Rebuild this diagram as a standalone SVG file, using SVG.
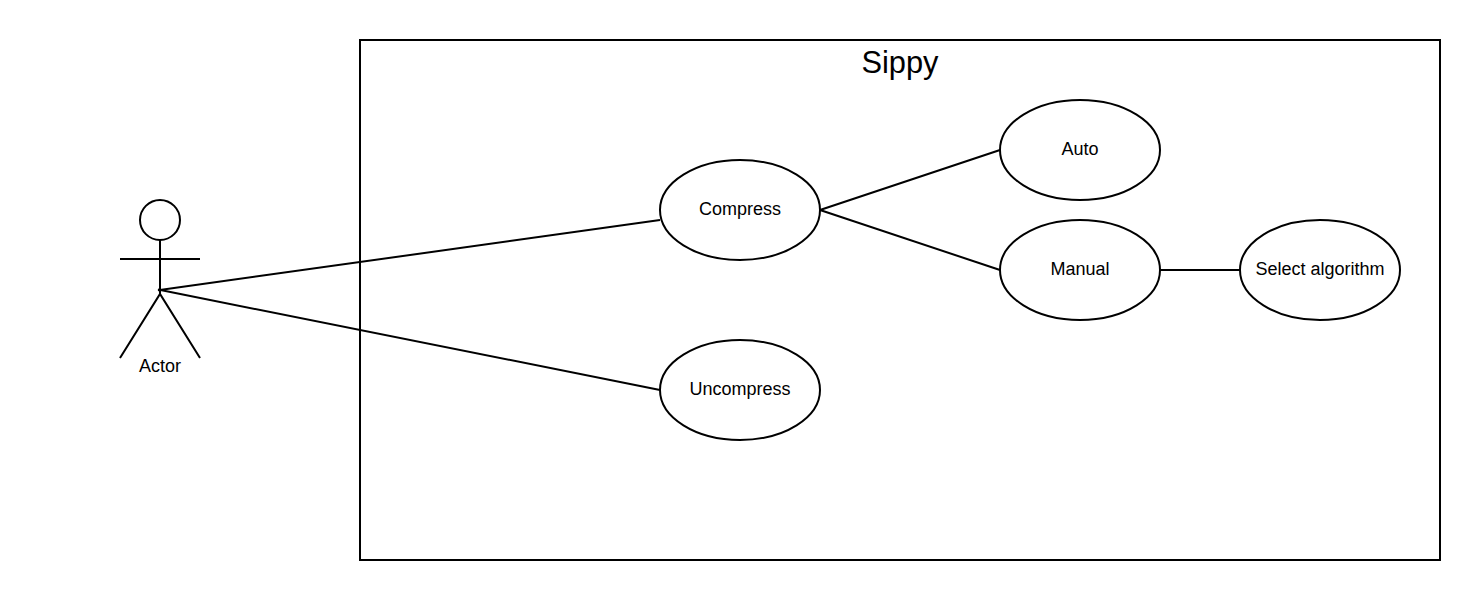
<svg xmlns="http://www.w3.org/2000/svg" width="1480" height="600" viewBox="0 0 1480 600">
<style>
.s{fill:none;stroke:#000;stroke-width:2}
.e{fill:#fff;stroke:#000;stroke-width:2}
text{font-family:"Liberation Sans",Arial,sans-serif;font-size:18px;fill:#000;text-anchor:middle}
</style>
<rect width="1480" height="600" fill="#fff"/>
<g id="system"><rect class="s" x="360" y="40" width="1080" height="520"/><text x="900" y="73" style="font-size:30.8px">Sippy</text></g>
<g id="connectors">
<path class="s" d="M158 290.300L660 220"/>
<path class="s" d="M158 289.600L660 390"/>
<path class="s" d="M820 210L1000 150"/>
<path class="s" d="M820 210L1000 270"/>
<path class="s" d="M1160 270H1240"/>
</g>
<g id="actor"><circle class="s" cx="160" cy="220" r="20"/><path class="s" d="M160 240V294M120 259H200M120 358L160 294L200 358"/><text x="160" y="372">Actor</text></g>
<g id="compress"><ellipse class="e" cx="740" cy="210" rx="80" ry="50"/><text x="740" y="215">Compress</text></g>
<g id="uncompress"><ellipse class="e" cx="740" cy="390" rx="80" ry="50"/><text x="740" y="395">Uncompress</text></g>
<g id="auto"><ellipse class="e" cx="1080" cy="150" rx="80" ry="50"/><text x="1080" y="155">Auto</text></g>
<g id="manual"><ellipse class="e" cx="1080" cy="270" rx="80" ry="50"/><text x="1080" y="275">Manual</text></g>
<g id="select"><ellipse class="e" cx="1320" cy="270" rx="80" ry="50"/><text x="1320" y="275">Select algorithm</text></g>
</svg>
